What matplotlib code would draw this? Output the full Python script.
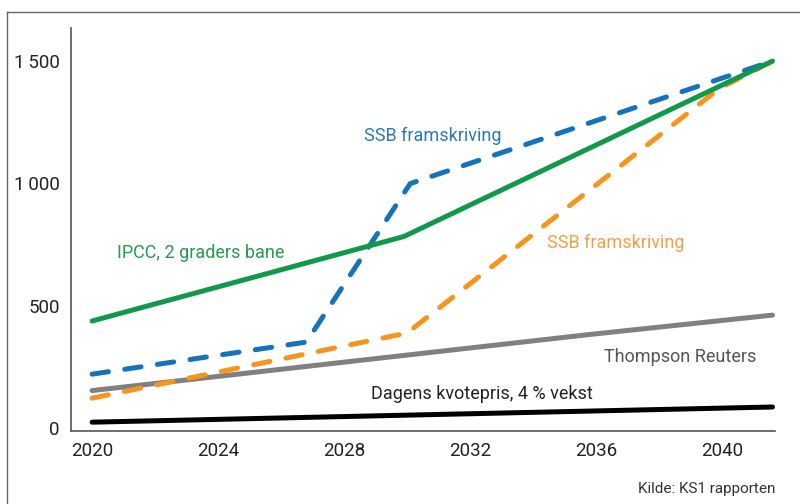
import matplotlib
matplotlib.use("Agg")
import matplotlib.pyplot as plt
from matplotlib.lines import Line2D

plt.rcParams['font.family'] = ['Roboto', 'DejaVu Sans']

# Data
ipcc_x = [2020, 2029.9, 2041.6]
ipcc_y = [437, 782, 1498]

ssb_blue_x = [2020, 2026.8, 2030.1, 2041.6]
ssb_blue_y = [220, 351, 998, 1498]

ssb_orange_x = [2020, 2030.0, 2039.9, 2041.6]
ssb_orange_y = [122, 388, 1385, 1498]

thompson_x = [2020, 2035.8, 2041.6]
thompson_y = [153, 382, 461]

dagens_x = [2020, 2041.6]
dagens_y = [24, 86]

xticks = [2020, 2024, 2028, 2032, 2036, 2040]
yticks = [0, 500, 1000, 1500]
ytick_labels = ["0", "500", "1\u2009000", "1\u2009500"]

c_green = "#10994a"
c_blue = "#1572bb"
c_orange = "#f7941d"
c_gray = "#808080"
c_black = "#000000"

fig = plt.figure(figsize=(8, 5.04), dpi=100)
ax = fig.add_axes([71/800, 1-431/504, (775-71)/800, (431-28)/504])

lw = 3.6
ax.plot(thompson_x, thompson_y, color=c_gray, lw=lw, solid_capstyle='round', solid_joinstyle='round', zorder=2)
ax.plot(dagens_x, dagens_y, color=c_black, lw=lw, solid_capstyle='round', zorder=2)
ax.plot(ssb_orange_x, ssb_orange_y, color=c_orange, lw=lw, dashes=(3.3, 3.3),
        dash_capstyle='round', dash_joinstyle='round', zorder=3)
ax.plot(ssb_blue_x, ssb_blue_y, color=c_blue, lw=lw, dashes=(3.3, 3.3),
        dash_capstyle='round', dash_joinstyle='round', zorder=3)
ax.plot(ipcc_x, ipcc_y, color=c_green, lw=lw, solid_capstyle='round', solid_joinstyle='round', zorder=4)

ax.set_xlim(2019.33, 2041.68)
ax.set_ylim(-12, 1633)
ax.set_xticks(xticks)
ax.set_xticklabels([str(x) for x in xticks])
ax.set_yticks(yticks)
ax.set_yticklabels(ytick_labels)
ax.tick_params(length=0, labelsize=13.5, colors="#222222", pad=8)
ax.tick_params(axis='x', pad=8)
for s in ['top', 'right']:
    ax.spines[s].set_visible(False)
for s in ['left', 'bottom']:
    ax.spines[s].set_color("#555555")
    ax.spines[s].set_linewidth(1.2)

def lab(x, y, t, c, ha='center', fs=13):
    fig.text(x/800, 1-y/504, t, color=c, fontsize=fs, ha=ha, va='center')

lab(433, 136, "SSB framskriving", "#2c79b6")
lab(201, 253, "IPCC, 2 graders bane", "#249a50")
lab(616, 243, "SSB framskriving", "#f0a048")
lab(680, 357, "Thompson Reuters", "#555555")
lab(482, 394, "Dagens kvotepris, 4 % vekst", "#222222")
lab(775, 489, "Kilde: KS1 rapporten", "#333333", ha='right', fs=11)

# outer frame (left and top lines)
fig.add_artist(Line2D([7/800, 7/800], [0, 1-12/504], transform=fig.transFigure, color="#666666", lw=1))
fig.add_artist(Line2D([7/800, 1], [1-12/504, 1-12/504], transform=fig.transFigure, color="#666666", lw=1))

fig.savefig("out.png", dpi=100)
